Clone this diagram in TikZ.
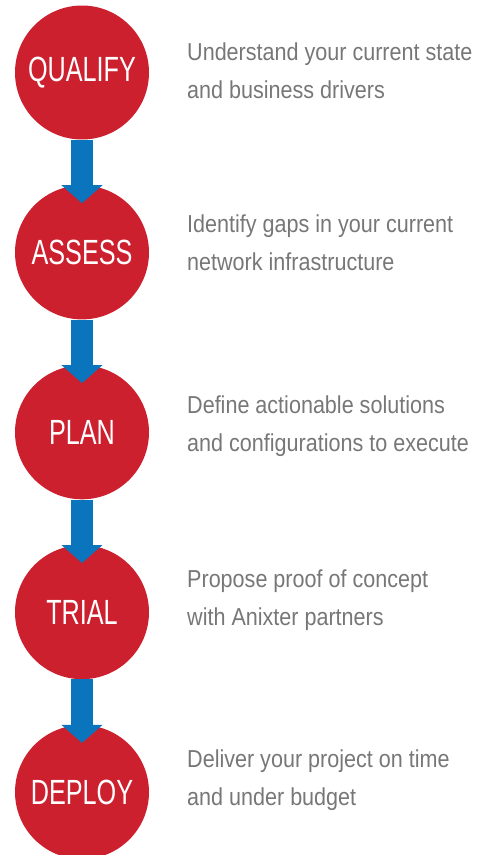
\documentclass[tikz,border=0pt]{standalone}
\usepackage{fontspec}
\setmainfont{Liberation Sans}
\newfontfamily\stagefont{Liberation Sans}[FakeStretch=0.72]
\newfontfamily\descfont{Liberation Sans}[FakeStretch=0.88]
\usetikzlibrary{positioning}
\usetikzlibrary{arrows.meta}
\definecolor{stagered}{HTML}{CD202F}
\definecolor{flowblue}{HTML}{0A74BD}
\definecolor{descgray}{HTML}{777777}

\begin{document}
\begin{tikzpicture}[x=1pt, y=1pt, node distance=45.5pt]
	\tikzstyle{stage}=[circle, fill=stagered, minimum size=134pt, inner sep=0pt, text=white, font=\stagefont\fontsize{35}{35}\selectfont]
	\tikzstyle{flow}=[draw=flowblue, line width=22pt, -{Triangle[length=18pt, width=40pt]}]
	\tikzstyle{desc}=[anchor=base west, align=left, inner sep=0pt, text=descgray, font=\descfont\fontsize{24.5}{38}\selectfont]

	\useasboundingbox (0,0) rectangle (481,-855);

	\node[stage] (qualify) at (82,-72.5) {QUALIFY};
	\node[stage, below=of qualify] (assess) {ASSESS};
	\node[stage, below=of assess] (plan) {PLAN};
	\node[stage, below=of plan] (trial) {TRIAL};
	\node[stage, below=of trial] (deploy) {DEPLOY};

	\draw[flow] (qualify.south) -- ([yshift=-18pt]assess.north);
	\draw[flow] (assess.south) -- ([yshift=-18pt]plan.north);
	\draw[flow] (plan.south) -- ([yshift=-18pt]trial.north);
	\draw[flow] (trial.south) -- ([yshift=-18pt]deploy.north);

	% base anchor sits on the second line
	\node[desc] (qualifytxt) at (187,-98) {Understand your current state\\and business drivers};
	\node[desc] (assesstxt) at (187,-270) {Identify gaps in your current\\network infrastructure};
	\node[desc] (plantxt) at (187,-451) {Define actionable solutions\\and configurations to execute};
	\node[desc] (trialtxt) at (187,-625) {Propose proof of concept\\with Anixter partners};
	\node[desc] (deploytxt) at (187,-805) {Deliver your project on time\\and under budget};
\end{tikzpicture}
\end{document}
